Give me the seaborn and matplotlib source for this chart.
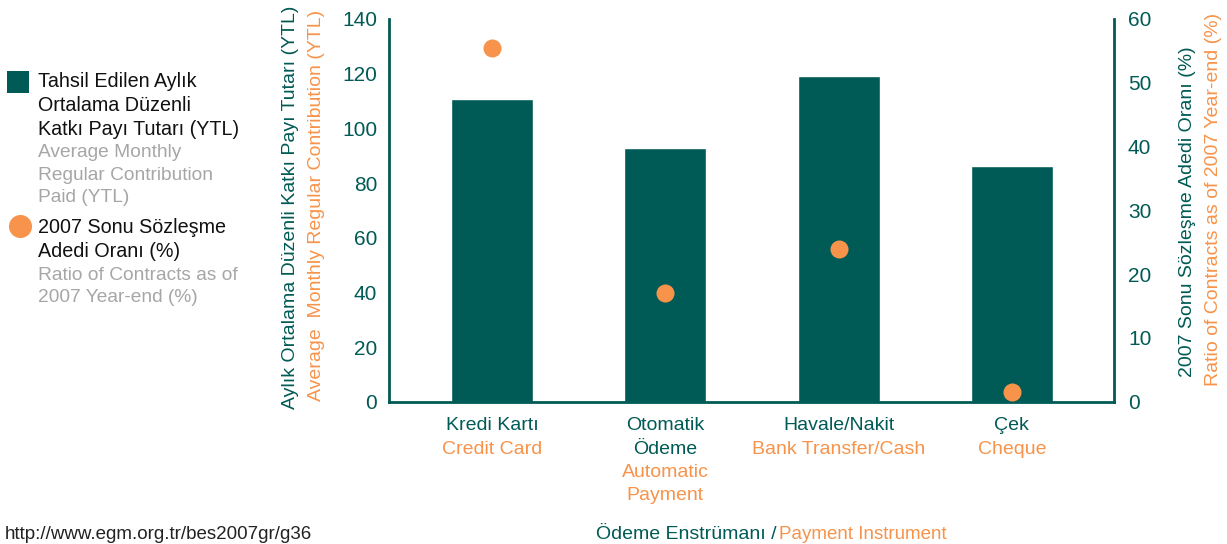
import matplotlib
matplotlib.use('Agg')
import matplotlib.pyplot as plt
import matplotlib.transforms as mtransforms
from matplotlib.patches import Rectangle
from matplotlib.lines import Line2D
import pandas as pd
import seaborn as sns

# values
categories_tr = ['Kredi Kartı', 'Otomatik\nÖdeme', 'Havale/Nakit', 'Çek']
categories_en = ['Credit Card', 'Automatic\nPayment', 'Bank Transfer/Cash', 'Cheque']
contribution_ytl = [110.7, 92.8, 119.2, 86.3]
contract_ratio_pct = [55.5, 17.0, 24.0, 1.5]
left_ticks = [0, 20, 40, 60, 80, 100, 120, 140]
right_ticks = [0, 10, 20, 30, 40, 50, 60]

TEAL = '#005a55'
ORANGE = '#f7934a'
GRAY = '#a6a6a6'
W, H = 1227, 544
FS = 14

sns.set_style('white')
plt.rcParams['font.family'] = ['Liberation Sans', 'DejaVu Sans']

df = pd.DataFrame({'instrument': categories_tr,
                   'contribution': contribution_ytl,
                   'ratio': contract_ratio_pct})

fig = plt.figure(figsize=(W / 100, H / 100), dpi=100)
# pixel coords, y down
px = mtransforms.Affine2D().scale(1 / W, -1 / H).translate(0, 1) + fig.transFigure

ax = fig.add_axes([389 / W, 1 - 401.7 / H, 725 / W, 382.7 / H])
sns.barplot(data=df, x='instrument', y='contribution', color=TEAL,
            saturation=1, width=0.473, ax=ax)
ax2 = ax.twinx()
sns.stripplot(data=df, x='instrument', y='ratio', color=ORANGE, size=13,
              jitter=False, linewidth=0, ax=ax2, zorder=3)

ax.set_xlim(-0.595, 3.59)
ax.set_ylim(0, 140)
ax2.set_ylim(0, 60)
ax.set_yticks(left_ticks)
ax2.set_yticks(right_ticks)
ax.set_xticks(range(len(categories_tr)))
ax.set_xticklabels([])
ax.set_xlabel('')
ax.set_ylabel('')
ax2.set_ylabel('')
ax2.set_xlabel('')
ax.tick_params(axis='x', length=0)
ax.tick_params(axis='y', length=0, pad=8.5, labelsize=15, labelcolor=TEAL)
ax2.tick_params(axis='y', length=0, pad=10, labelsize=15, labelcolor=TEAL)

for a in (ax, ax2):
    a.spines['top'].set_visible(False)
    for s in ('left', 'right', 'bottom'):
        a.spines[s].set_color(TEAL)
        a.spines[s].set_linewidth(2)
ax.spines['right'].set_visible(False)
ax2.spines['left'].set_visible(False)
ax2.spines['bottom'].set_visible(False)

# category labels, turkish then english, one line at a time
cat_tr = mtransforms.blended_transform_factory(ax.transData, px)
pitch = 23.5
for i, (tr, en) in enumerate(zip(categories_tr, categories_en)):
    lines = [(t, TEAL) for t in tr.split('\n')] + [(t, ORANGE) for t in en.split('\n')]
    for k, (t, c) in enumerate(lines):
        fig.text(i, 430 + k * pitch, t, transform=cat_tr, ha='center',
                 va='baseline', color=c, fontsize=FS)

# x axis title
fig.text(776, 539, 'Ödeme Enstrümanı /', transform=px, ha='right',
         va='baseline', color=TEAL, fontsize=FS)
fig.text(779, 539, 'Payment Instrument', transform=px, ha='left',
         va='baseline', color=ORANGE, fontsize=13.5)

# y axis titles
def vtitle(x, y, s, c):
    fig.text(x, y, s, transform=px, rotation=90, rotation_mode='anchor',
             ha='center', va='baseline', color=c, fontsize=FS)

vtitle(295, 207.5, 'Aylık Ortalama Düzenli Katkı Payı Tutarı (YTL)', TEAL)
vtitle(321, 205, 'Average  Monthly Regular Contribution (YTL)', ORANGE)
vtitle(1192, 212, '2007 Sonu Sözleşme Adedi Oranı (%)', TEAL)
vtitle(1218, 199, 'Ratio of Contracts as of 2007 Year-end (%)', ORANGE)

# legend on the left
def block(x, y0, step, text, c, fs):
    for k, t in enumerate(text.split('\n')):
        fig.text(x, y0 + k * step, t, transform=px, ha='left',
                 va='baseline', color=c, fontsize=fs)

fig.add_artist(Rectangle((7, 71), 22, 22, transform=px, color=TEAL, lw=0))
block(38, 87.3, 23.7, 'Tahsil Edilen Aylık\nOrtalama Düzenli\nKatkı Payı Tutarı (YTL)', '#111111', 14.2)
block(38, 157.3, 22.5, 'Average Monthly\nRegular Contribution\nPaid (YTL)', GRAY, 13.8)
fig.add_artist(Line2D([20], [226], transform=px, marker='o', markersize=16.6,
                      color=ORANGE, markeredgewidth=0, linestyle='none'))
block(38, 233.3, 24, '2007 Sonu Sözleşme\nAdedi Oranı (%)', '#111111', 14.2)
block(38, 280, 22.3, 'Ratio of Contracts as of\n2007 Year-end (%)', GRAY, 13.8)

fig.text(5, 539, 'http://www.egm.org.tr/bes2007gr/g36', transform=px,
         ha='left', va='baseline', color='#222222', fontsize=13.5)

fig.savefig('out.png', dpi=100)
